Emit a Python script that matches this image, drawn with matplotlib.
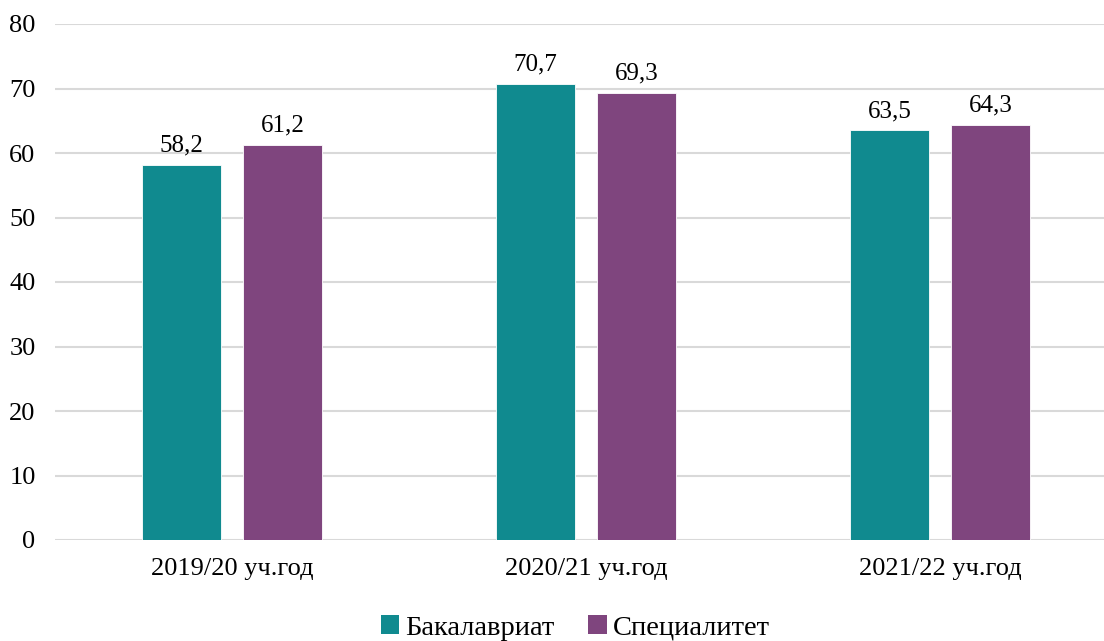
import matplotlib
matplotlib.use("Agg")
import matplotlib.pyplot as plt
from matplotlib.patches import Patch
import numpy as np

categories = ["2019/20 уч.год", "2020/21 уч.год", "2021/22 уч.год"]
bachelor = [58.2, 70.7, 63.5]
specialist = [61.2, 69.3, 64.3]
series_names = ["Бакалавриат", "Специалитет"]
colors = ["#108A8F", "#7F457E"]

plt.rcParams['font.family'] = ['Liberation Serif', 'DejaVu Serif']

fig = plt.figure(figsize=(11.04, 6.41), dpi=100)
ax = fig.add_axes([55/1104, 1-540/641, 1-55/1104, (540-24)/641])

x = np.arange(len(categories))
w = 0.223
off = 0.1427
b1 = ax.bar(x - off, bachelor, w, color=colors[0], edgecolor="white", linewidth=0.6, zorder=3)
b2 = ax.bar(x + off, specialist, w, color=colors[1], edgecolor="white", linewidth=0.6, zorder=3)

for bars, vals in ((b1, bachelor), (b2, specialist)):
    for rect, v in zip(bars, vals):
        ax.annotate(f"{v:.1f}".replace(".", ","),
                    (rect.get_x() + rect.get_width()/2, rect.get_height()),
                    xytext=(0, 6), textcoords="offset points",
                    ha="center", va="bottom", fontsize=18, color="#000000")

ax.set_ylim(0, 80)
ax.set_yticks(range(0, 81, 10))
ax.set_xlim(-0.5, (1104-232)/354)
ax.set_xticks(x)
ax.set_xticklabels(categories)
ax.grid(axis="y", color="#D9D9D9", linewidth=1.5, zorder=0)
for s in ax.spines.values():
    s.set_visible(False)
ax.tick_params(axis="both", length=0, labelsize=19, colors="#000000")
ax.tick_params(axis="y", pad=14)
ax.tick_params(axis="x", pad=13)

handles = [Patch(facecolor=c) for c in colors]
fig.legend(handles, series_names, loc="center", bbox_to_anchor=(575/1104, 1-628/641),
           ncol=2, frameon=False, fontsize=20.5, handlelength=0.65, handleheight=0.65,
           handletextpad=0.2, columnspacing=1.2, borderaxespad=0)

fig.savefig("out.png", dpi=100)
